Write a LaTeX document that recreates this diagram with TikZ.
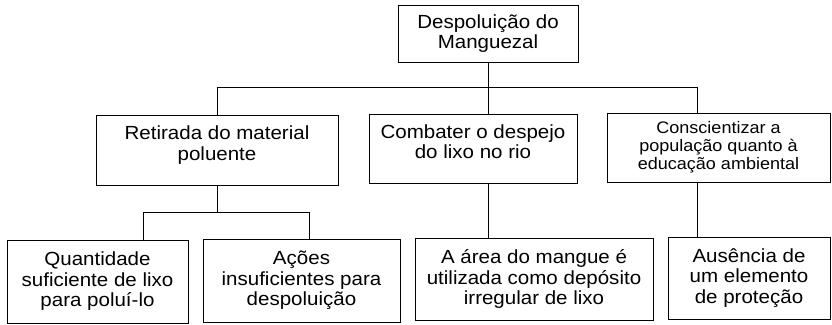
\documentclass[tikz,border=0pt]{standalone}
\usepackage{fontspec}
\setmainfont{Liberation Sans}[FakeStretch=1.08]
\usepackage{tikz}
\usetikzlibrary{positioning, calc}

\tikzset{
  box/.style={draw, rectangle, align=center, inner sep=0pt, line width=0.9pt,
    font=\fontsize{19}{20.5}\selectfont},
  smallbox/.style={box, font=\fontsize{16.7}{18}\selectfont},
  highbox/.style={box, text depth=14pt}
}

\begin{document}
\begin{tikzpicture}[x=1pt, y=-1pt, line width=0.9pt]
\useasboundingbox (0,0) rectangle (832,324);

\node (Top) [box, minimum width=180pt, minimum height=57pt] at (488,33.5) {Despoluição do\\Manguezal};

\node (Retirada) [highbox, minimum width=242pt, minimum height=70pt] at (217,150) {Retirada do material\\poluente};
\node (Combater) [highbox, minimum width=208pt, minimum height=69pt] at (473,148.5) {Combater o despejo\\do lixo no rio};
\node (Conscientizar) [smallbox, minimum width=223pt, minimum height=69pt] at (718.5,147.5) {Conscientizar a\\população quanto à\\educação ambiental};

\node (Quantidade) [box, minimum width=181pt, minimum height=83pt] at (97.5,281.5) {Quantidade\\suficiente de lixo\\para poluí-lo};
\node (Acoes) [box, minimum width=197pt, minimum height=83pt] at (301.5,280.5) {Ações\\insuficientes para\\despoluição};
\node (Area) [box, minimum width=238pt, minimum height=82pt] at (534,279) {A área do mangue é\\utilizada como depósito\\irregular de lixo};
\node (Ausencia) [box, minimum width=162pt, minimum height=82pt] at (749,278) {Ausência de\\um elemento\\de proteção};

\coordinate (BusL) at (217,87);
\coordinate (BusR) at (697,87);
\coordinate (SubL) at (143,212);
\coordinate (SubR) at (309,212);

\draw (Top.south) -- (Combater.north -| Top.south);
\draw (BusL) -- (BusR);
\draw (BusL) -- (Retirada.north);
\draw (BusR) -- (Conscientizar.north -| BusR);

\draw (Retirada.south) -- (Retirada.south |- SubL);
\draw (SubL) -- (SubR);
\draw (SubL) -- (Quantidade.north -| SubL);
\draw (SubR) -- (Acoes.north -| SubR);
\draw (Combater.south -| Top.south) -- (Area.north -| Top.south);
\draw (Conscientizar.south -| BusR) -- (Ausencia.north -| BusR);
\end{tikzpicture}
\end{document}
